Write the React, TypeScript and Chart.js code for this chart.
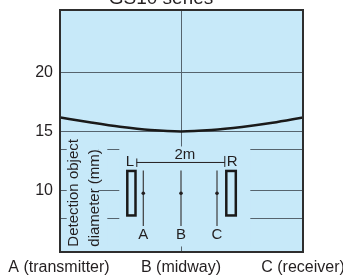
import React, { useEffect, useRef } from "react";
import { Chart, registerables } from "chart.js";

Chart.register(...registerables);

// ---- data ----
const title = "GS10 series";
const positions = [0, 0.25, 0.5, 0.75, 1, 1.25, 1.5, 1.75, 2];
const diameters = [16.22, 15.8, 15.42, 15.14, 15.02, 15.14, 15.4, 15.75, 16.2];
const xTickValues = [0, 1, 2];
const xTickLabels = ["A (transmitter)", "B (midway)", "C (receiver)"];
const yTickValues = [7.6, 10, 13.5, 15, 20];
const yLabelledValues = [10, 15, 20];
const axisTitleLines = ["Detection object", "diameter (mm)"];
const distanceLabel = "2m";
const endLabels = ["L", "R"];
const pointLabels = ["A", "B", "C"];

// ---- style ----
const BG = "#c7e9f9";
const INK = "#231f20";
const GRID = "#56646e";
const FONT = "'Liberation Sans', Arial, Helvetica, sans-serif";

const zeroPad = (s: any) => {
  s.paddingTop = 0;
  s.paddingBottom = 0;
  s.paddingLeft = 0;
  s.paddingRight = 0;
};

const decor = {
  id: "decor",
  beforeDraw(chart: any) {
    const { ctx, chartArea: a } = chart;
    ctx.save();
    ctx.fillStyle = BG;
    ctx.fillRect(a.left, a.top, a.right - a.left, a.bottom - a.top);
    ctx.restore();
  },
  afterDatasetsDraw(chart: any) {
    const { ctx, chartArea: a, scales } = chart;
    const bx = scales.x.getPixelForValue(1);
    const by = scales.y.getPixelForValue(10);
    const X = (p: number) => bx + (p - 181.7);
    const Y = (p: number) => by + (p - 190.7);
    ctx.save();
    // masks over grid where the inset diagram sits
    ctx.fillStyle = BG;
    ctx.fillRect(a.left + 7.7, Y(142), X(99) - (a.left + 7.7), Y(247) - Y(142));
    ctx.fillRect(X(99), Y(142), 9, Y(175) - Y(142));
    ctx.fillRect(X(99), Y(205), 9, Y(247) - Y(205));
    ctx.fillRect(X(120), Y(146.5), X(251) - X(120), Y(246.5) - Y(146.5));

    ctx.fillStyle = INK;
    ctx.font = `15px ${FONT}`;
    ctx.textBaseline = "alphabetic";
    // rotated axis title
    const cols = [79, 100];
    axisTitleLines.forEach((t, i) => {
      ctx.save();
      ctx.translate(X(cols[i]), Y(246.7));
      ctx.rotate(-Math.PI / 2);
      ctx.textAlign = "left";
      ctx.fillText(t, 0, 0);
      ctx.restore();
    });

    // 2m dimension line
    ctx.strokeStyle = INK;
    ctx.lineWidth = 1;
    ctx.beginPath();
    ctx.moveTo(X(137.3), Y(162.5));
    ctx.lineTo(X(225.5), Y(162.5));
    ctx.moveTo(X(137.5), Y(158.5));
    ctx.lineTo(X(137.5), Y(167));
    ctx.moveTo(X(225.5), Y(156));
    ctx.lineTo(X(225.5), Y(167));
    ctx.stroke();
    ctx.textAlign = "center";
    ctx.fillText(distanceLabel, X(185.5), Y(159));
    ctx.textAlign = "left";
    ctx.fillText(endLabels[0], X(126.5), Y(166));
    ctx.fillText(endLabels[1], X(227.5), Y(166));

    // boxes
    ctx.lineWidth = 2.5;
    ctx.strokeStyle = "#1a1a1a";
    ctx.strokeRect(X(128), Y(171), 8.2, Y(215.5) - Y(171));
    ctx.strokeRect(X(227), Y(171), 9.5, Y(215.5) - Y(171));

    // A, B, C lines with dots
    const px = [144, 181.7, 217.7];
    ctx.lineWidth = 1.2;
    ctx.strokeStyle = "#3c3c3c";
    px.forEach((p, i) => {
      ctx.beginPath();
      ctx.moveTo(X(p), Y(170.5));
      ctx.lineTo(X(p), Y(226));
      ctx.stroke();
      ctx.beginPath();
      ctx.arc(X(p), Y(193.3), 1.8, 0, Math.PI * 2);
      ctx.fillStyle = INK;
      ctx.fill();
      ctx.textAlign = "center";
      ctx.fillText(pointLabels[i], X(p), Y(239.5));
    });
    ctx.restore();
  },
  afterDraw(chart: any) {
    const { ctx, chartArea: a } = chart;
    ctx.save();
    ctx.strokeStyle = "#2e2e2e";
    ctx.lineWidth = 2;
    ctx.strokeRect(a.left + 1, a.top + 1, a.right - a.left - 1, a.bottom - a.top - 1);
    ctx.fillStyle = INK;
    ctx.font = `19px ${FONT}`;
    ctx.textAlign = "center";
    ctx.textBaseline = "alphabetic";
    ctx.fillText(title, 161, 4);
    ctx.restore();
  },
};

export default function App() {
  const ref = useRef<HTMLCanvasElement | null>(null);
  useEffect(() => {
    if (!ref.current) return;
    const chart = new Chart(ref.current, {
      type: "line",
      data: {
        datasets: [
          {
            data: positions.map((x, i) => ({ x, y: diameters[i] })),
            borderColor: "#1a1a1a",
            borderWidth: 2.5,
            pointRadius: 0,
            cubicInterpolationMode: "monotone",
            fill: false,
          },
        ],
      },
      options: {
        responsive: false,
        animation: false,
        events: [],
        layout: { padding: { left: 0, right: 40, top: 9, bottom: 0 } },
        plugins: {
          legend: { display: false },
          tooltip: { enabled: false },
          title: { display: false },
        },
        scales: {
          x: {
            type: "linear",
            min: 0,
            max: 2,
            afterBuildTicks: (s: any) => {
              s.ticks = xTickValues.map((v) => ({ value: v }));
            },
            afterFit: (s: any) => {
              s.height = 25;
              zeroPad(s);
            },
            ticks: {
              callback: (v: any) => xTickLabels[xTickValues.indexOf(v)] ?? "",
              font: { family: FONT, size: 16 },
              color: INK,
              padding: 6,
              maxRotation: 0,
              autoSkip: false,
            },
            grid: {
              color: (c: any) => (c.tick && c.tick.value === 1 ? GRID : "rgba(0,0,0,0)"),
              drawTicks: false,
              lineWidth: 1,
            },
            border: { display: false },
          },
          y: {
            type: "linear",
            min: 4.8,
            max: 25.4,
            afterBuildTicks: (s: any) => {
              s.ticks = yTickValues.map((v) => ({ value: v }));
            },
            afterFit: (s: any) => {
              s.width = 59;
              zeroPad(s);
            },
            ticks: {
              callback: (v: any) => (yLabelledValues.includes(v) ? String(v) : ""),
              font: { family: FONT, size: 16 },
              color: INK,
              padding: 6,
              autoSkip: false,
            },
            grid: { color: GRID, drawTicks: false, lineWidth: 1 },
            border: { display: false },
          },
        },
      },
      plugins: [decor],
    } as any);
    return () => chart.destroy();
  }, []);
  return (
    <div style={{ position: "fixed", left: 0, top: 0, width: 343, height: 277, background: "#fff" }}>
      <canvas ref={ref} width={343} height={277} style={{ width: 343, height: 277, display: "block" }} />
    </div>
  );
}
